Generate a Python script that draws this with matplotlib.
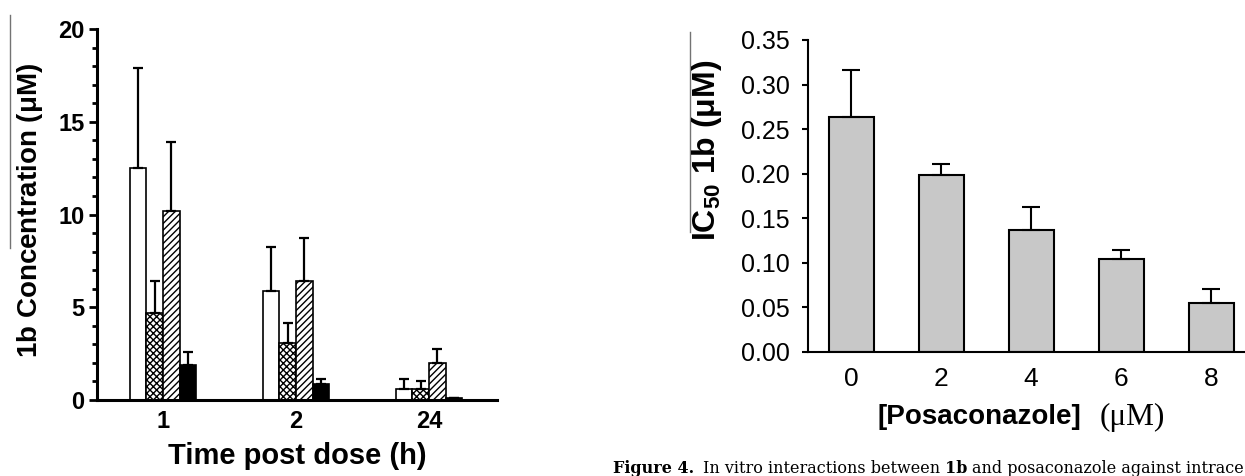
import numpy as np
import matplotlib
matplotlib.use("Agg")
from matplotlib import pyplot as plt
from matplotlib.ticker import MultipleLocator, FormatStrFormatter
from matplotlib.lines import Line2D

plt.rcParams['font.family'] = ['Liberation Sans', 'DejaVu Sans']
plt.rcParams['mathtext.fontset'] = 'custom'
plt.rcParams['mathtext.rm'] = 'Liberation Sans'
plt.rcParams['mathtext.bf'] = 'Liberation Sans:bold'
plt.rcParams['hatch.linewidth'] = 1.0

# left panel: 1b concentration after dosing
time_labels = ['1', '2', '24']
conc_open = [12.5, 5.9, 0.6]
conc_open_err = [5.4, 2.35, 0.55]
conc_check = [4.7, 3.05, 0.6]
conc_check_err = [1.7, 1.1, 0.4]
conc_hatch = [10.2, 6.4, 2.0]
conc_hatch_err = [3.7, 2.35, 0.75]
conc_black = [1.9, 0.85, 0.12]
conc_black_err = [0.7, 0.3, 0.0]

# right panel: IC50 vs posaconazole
posa = [0, 2, 4, 6, 8]
ic50 = [0.263, 0.198, 0.137, 0.104, 0.055]
ic50_err = [0.053, 0.013, 0.025, 0.010, 0.015]

W, H = 1245, 476
fig = plt.figure(figsize=(W / 100, H / 100), dpi=100)

# ---- left chart
ax1 = fig.add_axes([97 / W, 76 / H, 400 / W, 371 / H])
x = np.arange(len(time_labels))
w = 0.125
series = [
    (conc_open, conc_open_err, 'white', None),
    (conc_check, conc_check_err, 'white', 'xxxxx'),
    (conc_hatch, conc_hatch_err, 'white', '/////'),
    (conc_black, conc_black_err, 'black', None),
]
for i, (vals, errs, fc, hatch) in enumerate(series):
    xs = x + (i - 1.5) * w
    ax1.bar(xs, vals, width=w, color=fc, edgecolor='black', linewidth=1.2,
            hatch=hatch, zorder=2)
    ax1.errorbar(xs, vals, yerr=[np.zeros(len(vals)), errs], fmt='none',
                 ecolor='black', elinewidth=1.6, capsize=3.6, capthick=1.6, zorder=3)

ax1.set_xlim(-0.496, 2.511)
ax1.set_ylim(0, 20)
ax1.set_xticks(x)
ax1.set_xticklabels(time_labels, fontsize=17, fontweight='bold')
ax1.yaxis.set_major_locator(MultipleLocator(5))
ax1.yaxis.set_minor_locator(MultipleLocator(1))
ax1.tick_params(axis='x', length=0, pad=7)
ax1.tick_params(axis='y', which='major', length=6, width=2, pad=3, labelsize=17)
ax1.tick_params(axis='y', which='minor', length=3.5, width=2)
for lab in ax1.get_yticklabels():
    lab.set_fontweight('bold')
for s in ['top', 'right']:
    ax1.spines[s].set_visible(False)
for s in ['left', 'bottom']:
    ax1.spines[s].set_linewidth(2.2)

fig.text(30 / W, 1 - 210 / H, r'$\mathbf{1b}$ Concentration (μM)', rotation=90,
         ha='center', va='center', fontsize=20, fontweight='bold')
fig.text(297 / W, 1 - 456 / H, 'Time post dose (h)', ha='center', va='center',
         fontsize=21, fontweight='bold')

# ---- right chart
ax2 = fig.add_axes([808 / W, (H - 351.7) / H, 437 / W, 311.7 / H])
ax2.bar(posa, ic50, width=1.0, color='#c8c8c8', edgecolor='black', linewidth=1.5, zorder=2)
ax2.errorbar(posa, ic50, yerr=[np.zeros(len(ic50)), ic50_err], fmt='none',
             ecolor='black', elinewidth=1.5, capsize=6.5, capthick=1.5, zorder=3)
ax2.set_xlim(-0.956, 8.755)
ax2.set_ylim(0, 0.35)
ax2.set_xticks(posa)
ax2.yaxis.set_major_locator(MultipleLocator(0.05))
ax2.yaxis.set_major_formatter(FormatStrFormatter('%.2f'))
ax2.tick_params(axis='x', length=0, pad=11, labelsize=19)
ax2.tick_params(axis='y', length=4, width=1.5, pad=9, labelsize=18)
for s in ['top', 'right']:
    ax2.spines[s].set_visible(False)
for s in ['left', 'bottom']:
    ax2.spines[s].set_linewidth(1.5)

fig.text(707 / W, 1 - 150 / H, r'IC$_{\mathbf{50}}$ 1b (μM)', rotation=90,
         ha='center', va='center', fontsize=23, fontweight='bold')
fig.text(1081 / W, 1 - 417 / H, '[Posaconazole]', ha='right', va='center',
         fontsize=20, fontweight='bold')
fig.text(1100 / W, 1 - 417 / H, '(μM)', ha='left', va='center', fontsize=22.5,
         family='Liberation Serif')

# caption, cut where the page crop ends
cap_y = 3
cap_fs = 11.5
fig.canvas.draw()
r = fig.canvas.get_renderer()


def place_before(right_px, txt, **kw):
    t = fig.text(right_px / W, cap_y / H, txt, ha='right', va='baseline',
                 fontsize=cap_fs, family='DejaVu Serif', **kw)
    fig.canvas.draw()
    return t, t.get_window_extent(r).x0


c4, left = place_before(W - 1, 'and posaconazole against intrace')
c3, left = place_before(left - 5, '1b', fontweight='bold')
c2, left = place_before(left - 5, 'In vitro interactions between')
c1, left = place_before(left - 9, 'Figure 4.', fontweight='bold')

# scan artefacts: thin gray rules left of the y labels
fig.add_artist(Line2D([10 / W, 10 / W], [1 - 15 / H, 1 - 248 / H], color='0.45', lw=1))
fig.add_artist(Line2D([690 / W, 690 / W], [1 - 32 / H, 1 - 232 / H], color='0.45', lw=1))

fig.savefig('out.png', dpi=100)
